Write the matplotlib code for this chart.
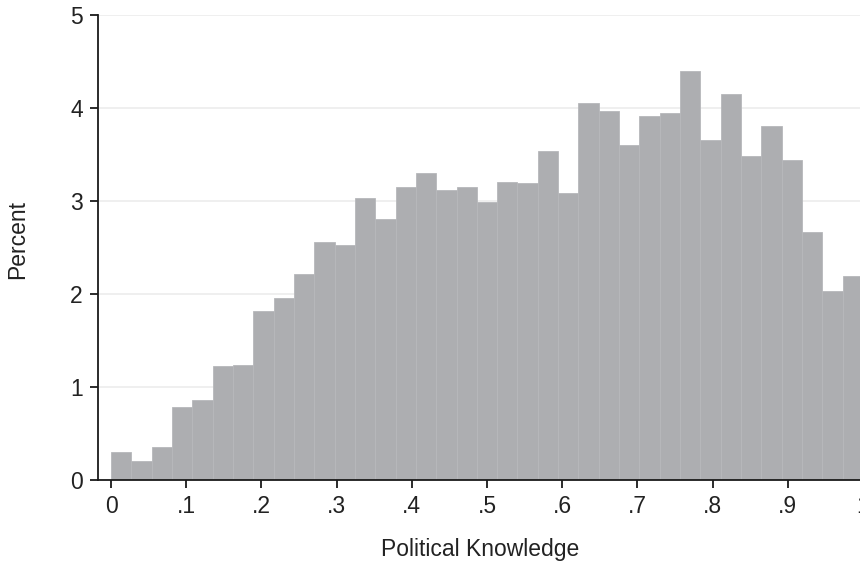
import numpy as np
import matplotlib
matplotlib.use('Agg')
import matplotlib.pyplot as plt

# histogram of political knowledge, 37 equal bins over [0, 1]
n_bins = 37
percent = [0.30, 0.20, 0.355, 0.785, 0.86, 1.226, 1.237, 1.817, 1.957, 2.215,
           2.556, 2.527, 3.03, 2.806, 3.15, 3.30, 3.115, 3.147, 2.989, 3.204,
           3.194, 3.534, 3.083, 4.05, 3.968, 3.60, 3.914, 3.946, 4.398, 3.656,
           4.147, 3.484, 3.803, 3.44, 2.667, 2.032, 2.194]
xticks = [0, .1, .2, .3, .4, .5, .6, .7, .8, .9, 1]
xtick_labels = ['0', '.1', '.2', '.3', '.4', '.5', '.6', '.7', '.8', '.9', '1']
yticks = [0, 1, 2, 3, 4, 5]

plt.rcParams['font.family'] = ['Liberation Sans', 'DejaVu Sans']
fs = 16.5

fig = plt.figure(figsize=(8.6, 5.64), dpi=100)
# axes runs past the right edge, the reference is cropped there (the "1" is cut)
ax = fig.add_axes([98/860, 84/564, 780/860, 465/564])

bin_w = 1.0 / n_bins
left_edges = np.arange(n_bins) * bin_w
ax.bar(left_edges, percent, width=bin_w, align='edge', color='#adaeb1',
       edgecolor='#b7b8bb', linewidth=0.6, zorder=2)

ax.set_xlim(-0.0173, 1.02)
ax.set_ylim(0, 5)
ax.set_xticks(xticks)
ax.set_xticklabels(xtick_labels)
ax.set_yticks(yticks)

ax.grid(axis='y', color='#eeeeee', linewidth=1.3, zorder=0)
ax.set_axisbelow(True)
for s in ['top', 'right']:
    ax.spines[s].set_visible(False)
for s in ['left', 'bottom']:
    ax.spines[s].set_linewidth(1.3)
    ax.spines[s].set_color('#1a1a1a')

ax.tick_params(axis='both', direction='out', length=6, width=1.3, color='#1a1a1a',
               labelsize=fs, labelcolor='#222222', pad=5)

fig.text(18/860, 1 - 240/564, 'Percent', rotation=90, ha='center', va='center',
         fontsize=fs, color='#222222')
fig.text(480/860, 8/564, 'Political Knowledge', ha='center', va='baseline',
         fontsize=fs, color='#222222')

fig.savefig('out.png', dpi=100)
